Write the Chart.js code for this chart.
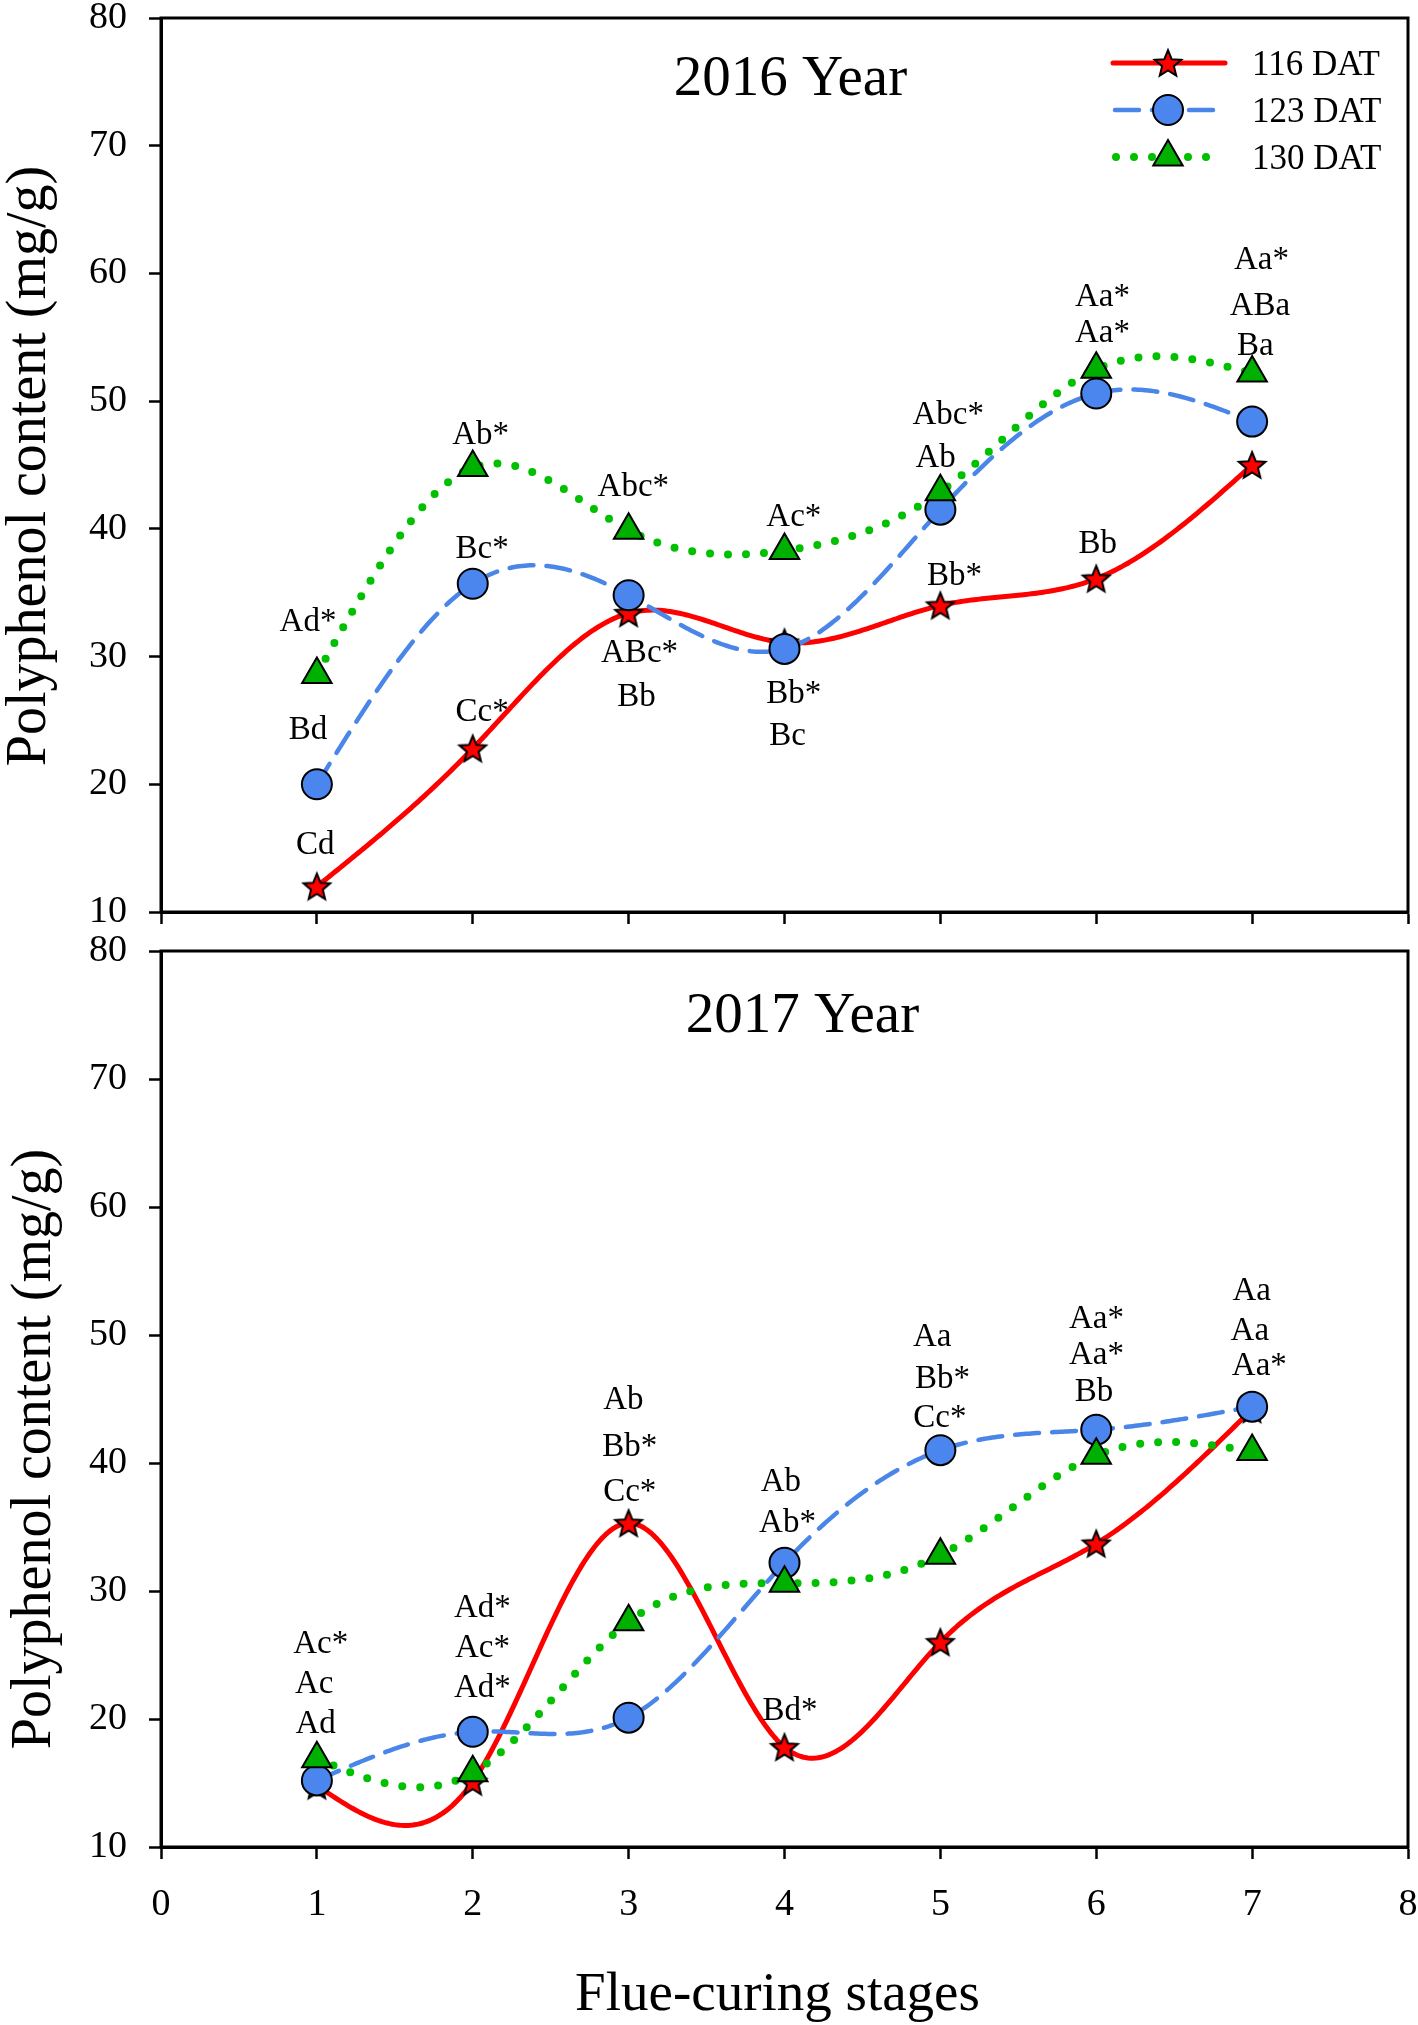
<!DOCTYPE html>
<html><head><meta charset="utf-8">
<script src="https://cdn.jsdelivr.net/npm/chart.js@4.4.0/dist/chart.umd.min.js"></script>
<style>
html,body{margin:0;padding:0;background:#fff;}
#wrap{position:relative;width:1418px;height:2025px;overflow:hidden;}
#c1{position:absolute;left:0;top:0;}
#c2{position:absolute;left:0;top:920px;}
</style></head><body>
<div id="wrap"><canvas id="c1" width="1418" height="940"></canvas><canvas id="c2" width="1418" height="1105"></canvas></div>
<script>
// ---------- data ----------
const stages = [1, 2, 3, 4, 5, 6, 7];
const seriesNames = ['116 DAT', '123 DAT', '130 DAT'];
const xTickValues = [0, 1, 2, 3, 4, 5, 6, 7, 8];
const yTickValues = [10, 20, 30, 40, 50, 60, 70, 80];
const panelTitles = ['2016 Year', '2017 Year'];
const xAxisTitle = 'Flue-curing stages';
const yAxisTitle = 'Polyphenol content (mg/g)';

const y2016_116 = [12.0, 22.8, 33.4, 31.1, 34.0, 36.1, 45.0];
const y2016_123 = [20.0, 35.7, 34.8, 30.6, 41.5, 50.6, 48.4];
const y2016_130 = [28.6, 44.8, 39.9, 38.3, 42.9, 52.5, 52.2];

const y2017_116 = [14.8, 15.1, 35.3, 17.8, 26.0, 33.7, 44.2];
const y2017_123 = [15.2, 19.0, 20.1, 32.2, 41.0, 42.6, 44.4];
const y2017_130 = [16.9, 15.8, 27.6, 30.6, 32.8, 40.6, 40.9];

// significance letters (text, anchor stage, anchor value)
const ann2016Text = ['Ad*','Bd','Cd','Ab*','Bc*','Cc*','Abc*','ABc*','Bb','Ac*','Bb*','Bc','Abc*','Ab','Bb*','Aa*','Aa*','Bb','Aa*','ABa','Ba'];
const ann2016X    = [0.943,0.943,0.99,2.05,2.06,2.06,3.03,3.07,3.05,4.06,4.06,4.02,5.05,4.97,5.09,6.04,6.04,6.01,7.06,7.05,7.02];
const ann2016Y    = [32.9,24.4,15.4,47.5,38.6,25.8,43.4,30.45,27.0,41.1,27.2,23.9,49.06,45.7,36.5,58.3,55.5,39.0,61.2,57.6,54.5];

const ann2017Text = ['Ac*','Ac','Ad','Ad*','Ac*','Ad*','Ab','Bb*','Cc*','Ab','Ab*','Bd*','Aa','Bb*','Cc*','Aa*','Aa*','Bb','Aa','Aa','Aa*'];
const ann2017X    = [1.025,0.983,0.992,2.062,2.062,2.062,2.966,3.007,3.007,3.977,4.019,4.035,4.948,5.014,4.997,6.001,6.001,5.985,6.997,6.985,7.046];
const ann2017Y    = [26.0,22.9,19.75,28.8,25.7,22.56,45.1,41.4,37.9,38.7,35.5,20.8,50.0,46.7,43.7,51.4,48.6,45.7,53.6,50.5,47.7];

// ---------- helpers ----------
const FONT = "'Liberation Serif', 'Times New Roman', serif";

function makeStar(R, r) {
  const c = document.createElement('canvas');
  const s = Math.ceil(2 * R + 6);
  c.width = s; c.height = s;
  const g = c.getContext('2d');
  const cx = s / 2, cy = s / 2 + 1.2;
  g.beginPath();
  for (let i = 0; i < 10; i++) {
    const ang = -Math.PI / 2 + i * Math.PI / 5;
    const rr = i % 2 ? r : R;
    const x = cx + rr * Math.cos(ang), y = cy + rr * Math.sin(ang);
    if (i) g.lineTo(x, y); else g.moveTo(x, y);
  }
  g.closePath();
  g.fillStyle = '#FF0000'; g.fill();
  g.lineWidth = 2; g.strokeStyle = '#000'; g.lineJoin = 'miter'; g.stroke();
  return c;
}
const starImg = makeStar(14, 6.2);

function naturalSpline(xs, ys) {
  const n = xs.length, h = [], M = new Array(n).fill(0);
  for (let i = 0; i < n - 1; i++) h[i] = xs[i + 1] - xs[i];
  const a = [], b = [], c = [], d = [];
  for (let i = 1; i < n - 1; i++) {
    a[i] = h[i - 1]; b[i] = 2 * (h[i - 1] + h[i]); c[i] = h[i];
    d[i] = 6 * ((ys[i + 1] - ys[i]) / h[i] - (ys[i] - ys[i - 1]) / h[i - 1]);
  }
  const cp = [], dp = [];
  for (let i = 1; i < n - 1; i++) {
    const m = b[i] - (i > 1 ? a[i] * cp[i - 1] : 0);
    cp[i] = c[i] / m;
    dp[i] = (d[i] - (i > 1 ? a[i] * dp[i - 1] : 0)) / m;
  }
  for (let i = n - 2; i >= 1; i--) M[i] = dp[i] - (i < n - 2 ? cp[i] * M[i + 1] : 0);
  return function (x) {
    let i = 0;
    while (i < n - 2 && x > xs[i + 1]) i++;
    const hh = h[i], t1 = xs[i + 1] - x, t2 = x - xs[i];
    return M[i] * t1 * t1 * t1 / (6 * hh) + M[i + 1] * t2 * t2 * t2 / (6 * hh)
      + (ys[i] / hh - M[i] * hh / 6) * t1 + (ys[i + 1] / hh - M[i + 1] * hh / 6) * t2;
  };
}

function strokeCurve(ctx, ds) {
  ctx.save();
  ctx.strokeStyle = ds.curveColor;
  ctx.lineWidth = ds.curveWidth;
  ctx.setLineDash(ds.curveDash);
  ctx.lineCap = ds.curveCap;
  ctx.lineJoin = 'round';
  ctx.stroke();
  ctx.restore();
}

function zeroPad(s) { s.paddingTop = 0; s.paddingBottom = 0; s.paddingLeft = 0; s.paddingRight = 0; }

const customPlugin = {
  id: 'custom',
  beforeDatasetsDraw(chart) {
    const ctx = chart.ctx, xs = chart.scales.x, ys = chart.scales.y, ca = chart.chartArea;
    ctx.save();
    ctx.beginPath(); ctx.rect(ca.left, ca.top, ca.right - ca.left, ca.bottom - ca.top); ctx.clip();
    chart.data.datasets.forEach(ds => {
      const px = ds.data.map(p => p.x), py = ds.data.map(p => p.y);
      const f = naturalSpline(px, py);
      ctx.beginPath();
      const N = 60;
      let first = true;
      for (let i = 0; i < px.length - 1; i++) {
        for (let k = (i === 0 ? 0 : 1); k <= N; k++) {
          const x = px[i] + (px[i + 1] - px[i]) * k / N;
          const X = xs.getPixelForValue(x), Y = ys.getPixelForValue(f(x));
          if (first) { ctx.moveTo(X, Y); first = false; } else ctx.lineTo(X, Y);
        }
      }
      strokeCurve(ctx, ds);
    });
    ctx.restore();
  },
  afterDraw(chart) {
    const o = chart.options.plugins.custom;
    const ctx = chart.ctx, xs = chart.scales.x, ys = chart.scales.y, ca = chart.chartArea;
    ctx.save();
    ctx.strokeStyle = '#000'; ctx.lineWidth = 3; ctx.setLineDash([]);
    ctx.strokeRect(ca.left, ca.top, ca.right - ca.left, ca.bottom - ca.top);
    ctx.fillStyle = '#000';
    ctx.textAlign = 'center'; ctx.textBaseline = 'alphabetic';
    ctx.font = '57px ' + FONT;
    ctx.fillText(o.title, (ca.left + ca.right) / 2 + o.titleDx, ca.top + o.titleDy);
    ctx.font = '33px ' + FONT;
    o.annText.forEach((t, i) => {
      ctx.fillText(t, xs.getPixelForValue(o.annX[i]), ys.getPixelForValue(o.annY[i]) + 11);
    });
    ctx.save();
    ctx.font = '56px ' + FONT;
    ctx.translate(o.yTitleX, (ca.top + ca.bottom) / 2 + o.yTitleDy);
    ctx.rotate(-Math.PI / 2);
    ctx.fillText(yAxisTitle, 0, 0);
    ctx.restore();
    if (o.showXTitle) {
      ctx.font = '55px ' + FONT;
      ctx.fillText(xAxisTitle, (ca.left + ca.right) / 2 - 7, ca.bottom + o.xTitleDy);
    }
    if (o.legend) {
      const mx = ca.right - 240, tx = ca.right - 156;
      const rows = [ca.top + 45, ca.top + 92, ca.top + 139];
      const starts = [ca.right - 295, ca.right - 293, ca.right - 292];
      const ends = [ca.right - 183, ca.right - 195, ca.right - 201];
      chart.data.datasets.forEach((ds, i) => {
        ctx.beginPath();
        ctx.moveTo(starts[i], rows[i]); ctx.lineTo(ends[i], rows[i]);
        strokeCurve(ctx, ds);
        ctx.save();
        ctx.fillStyle = ds.backgroundColor || '#f00';
        ctx.strokeStyle = ds.borderColor || '#000';
        ctx.lineWidth = ds.borderWidth || 2;
        ctx.setLineDash([]);
        Chart.helpers.drawPoint(ctx, { pointStyle: ds.pointStyle, radius: ds.pointRadius, rotation: 0, borderWidth: ds.borderWidth || 0 }, mx, rows[i]);
        ctx.restore();
        ctx.fillStyle = '#000';
        ctx.textAlign = 'left';
        ctx.font = '35px ' + FONT;
        ctx.fillText(ds.label, tx, rows[i] + 12);
      });
    }
    ctx.restore();
  }
};

function makeChart(id, d116, d123, d130, cfg) {
  const toPts = arr => stages.map((s, i) => ({ x: s, y: arr[i] }));
  return new Chart(document.getElementById(id), {
    type: 'scatter',
    data: {
      datasets: [
        { label: seriesNames[0], data: toPts(d116), pointStyle: starImg, pointRadius: 14, order: 2, showLine: false,
          curveColor: '#FF0000', curveWidth: 5, curveDash: [], curveCap: 'round' },
        { label: seriesNames[1], data: toPts(d123), pointStyle: 'circle', pointRadius: 15, backgroundColor: '#4A86EE', borderColor: '#000', borderWidth: 2, order: 1, showLine: false,
          curveColor: '#4A86E8', curveWidth: 4.5, curveDash: [24, 13], curveCap: 'round' },
        { label: seriesNames[2], data: toPts(d130), pointStyle: 'triangle', pointRadius: 17, backgroundColor: '#00B000', borderColor: '#000', borderWidth: 2, order: 0, showLine: false,
          curveColor: '#00C000', curveWidth: 8, curveDash: [0, 18], curveCap: 'round' }
      ]
    },
    options: {
      responsive: false, animation: false, devicePixelRatio: 1, events: [],
      layout: { autoPadding: false, padding: { top: cfg.padTop, right: 10, left: 0, bottom: 0 } },
      plugins: { legend: { display: false }, tooltip: { enabled: false }, custom: cfg },
      scales: {
        x: {
          type: 'linear', min: 0, max: 8,
          afterBuildTicks: s => { s.ticks = xTickValues.map(v => ({ value: v })); },
          afterFit: s => { s.height = cfg.xHeight; zeroPad(s); },
          grid: { display: true, drawOnChartArea: false, drawTicks: true, tickLength: 12, tickWidth: 2.5, tickColor: '#000', color: '#000' },
          border: { display: true, color: '#000', width: 3 },
          ticks: { autoSkip: false, maxRotation: 0, padding: 23, color: cfg.showXLabels ? '#000' : 'rgba(0,0,0,0)', font: { family: FONT, size: 38 } }
        },
        y: {
          type: 'linear', min: 10, max: 80,
          afterBuildTicks: s => { s.ticks = yTickValues.map(v => ({ value: v })); },
          afterFit: s => { s.width = 161; zeroPad(s); },
          grid: { display: true, drawOnChartArea: false, drawTicks: true, tickLength: 12, tickWidth: 2.5, tickColor: '#000', color: '#000' },
          border: { display: true, color: '#000', width: 3 },
          ticks: { autoSkip: false, padding: 22, color: '#000', font: { family: FONT, size: 38 } }
        }
      }
    },
    plugins: [customPlugin]
  });
}

makeChart('c1', y2016_116, y2016_123, y2016_130, {
  padTop: 18, xHeight: 28, showXLabels: false, showXTitle: false, legend: true,
  title: panelTitles[0], titleDx: 6, titleDy: 77,
  annText: ann2016Text, annX: ann2016X, annY: ann2016Y,
  yTitleX: 45, yTitleDy: 1
});
makeChart('c2', y2017_116, y2017_123, y2017_130, {
  padTop: 31, xHeight: 178, showXLabels: true, showXTitle: true, legend: false,
  title: panelTitles[1], titleDx: 18, titleDy: 81,
  annText: ann2017Text, annX: ann2017X, annY: ann2017Y,
  yTitleX: 50, yTitleDy: 50, xTitleDy: 163
});
</script>
</body></html>
